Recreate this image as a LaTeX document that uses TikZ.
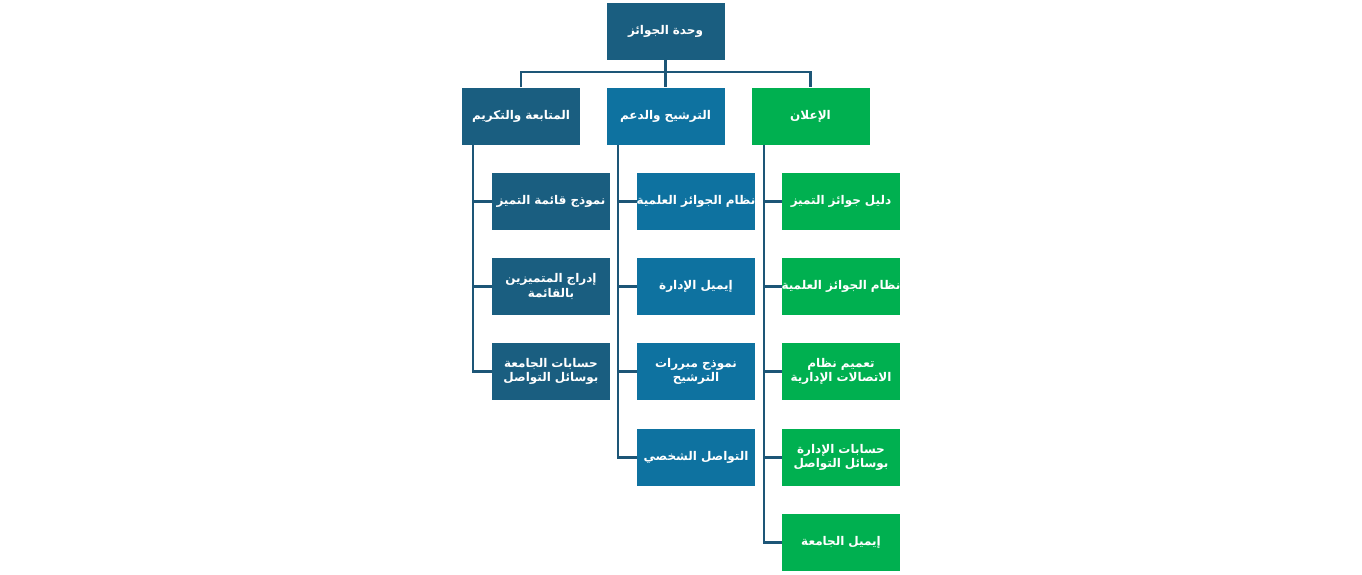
\documentclass[tikz,border=0pt]{standalone}
\usepackage{fontspec}
\newfontfamily\arabicfont[Script=Arabic]{DejaVu Sans}
\TeXXeTstate=1
\newcommand{\artxt}[1]{\beginR #1\endR}
\newcommand{\arfit}[1]{\makebox[116pt]{\beginR #1\endR}}
\definecolor{cdark}{HTML}{1A5E80}
\definecolor{cmid}{HTML}{0E72A0}
\definecolor{cgreen}{HTML}{00B050}
\definecolor{cline}{HTML}{1D5677}
\begin{document}
\begin{tikzpicture}[x=1pt,y=-1pt,
  box/.style={minimum width=118pt,minimum height=57pt,inner sep=1pt,
    text=white,font=\arabicfont\bfseries\fontsize{12}{14.5}\selectfont,align=center,text width=116pt},
  darkbox/.style={box,fill=cdark},
  midbox/.style={box,fill=cmid},
  greenbox/.style={box,fill=cgreen},
  conn/.style={draw=cline,line width=2.2pt}]
\useasboundingbox (0,0) rectangle (1362,574);
\node[darkbox] (top) at (665.5,31) {\artxt{وحدة الجوائز}};
\node[darkbox] (L) at (521,116) {\artxt{المتابعة والتكريم}};
\node[midbox] (M) at (665.5,116) {\artxt{الترشيح والدعم}};
\node[greenbox] (R) at (810.5,116) {\artxt{الإعلان}};
% left column
\node[darkbox] (l1) at (551,201.5) {\arfit{نموذج قائمة التميز}};
\node[darkbox] (l2) at (551,286.5) {\artxt{إدراج المتميزين}\\\artxt{بالقائمة}};
\node[darkbox] (l3) at (551,371.5) {\artxt{حسابات الجامعة}\\\artxt{بوسائل التواصل}};
% middle column
\node[midbox] (m1) at (696,201.5) {\arfit{نظام الجوائز العلمية}};
\node[midbox] (m2) at (696,286.5) {\artxt{إيميل الإدارة}};
\node[midbox] (m3) at (696,371.5) {\artxt{نموذج مبررات}\\\artxt{الترشيح}};
\node[midbox] (m4) at (696,457.5) {\artxt{التواصل الشخصي}};
% right column
\node[greenbox] (r1) at (841,201.5) {\artxt{دليل جوائز التميز}};
\node[greenbox] (r2) at (841,286.5) {\arfit{نظام الجوائز العلمية}};
\node[greenbox] (r3) at (841,371.5) {\artxt{تعميم نظام}\\\artxt{الاتصالات الإدارية}};
\node[greenbox] (r4) at (841,457.5) {\artxt{حسابات الإدارة}\\\artxt{بوسائل التواصل}};
\node[greenbox] (r5) at (841,542.5) {\artxt{إيميل الجامعة}};
% top connectors
\coordinate (bus) at (665.5,72);
\draw[conn] (top.south) -- (M.north);
\draw[conn] (L.north) |- (R.north |- bus) -- (R.north);
% buses
\coordinate (lb) at (473,145);
\coordinate (mb) at (618,145);
\coordinate (rb) at (764,145);
\draw[conn] (lb) |- (l3.west);
\draw[conn] (l1.west -| lb) -- (l1.west);
\draw[conn] (l2.west -| lb) -- (l2.west);
\draw[conn] (mb) |- (m4.west);
\draw[conn] (m1.west -| mb) -- (m1.west);
\draw[conn] (m2.west -| mb) -- (m2.west);
\draw[conn] (m3.west -| mb) -- (m3.west);
\draw[conn] (rb) |- (r5.west);
\draw[conn] (r1.west -| rb) -- (r1.west);
\draw[conn] (r2.west -| rb) -- (r2.west);
\draw[conn] (r3.west -| rb) -- (r3.west);
\draw[conn] (r4.west -| rb) -- (r4.west);
\end{tikzpicture}
\end{document}
